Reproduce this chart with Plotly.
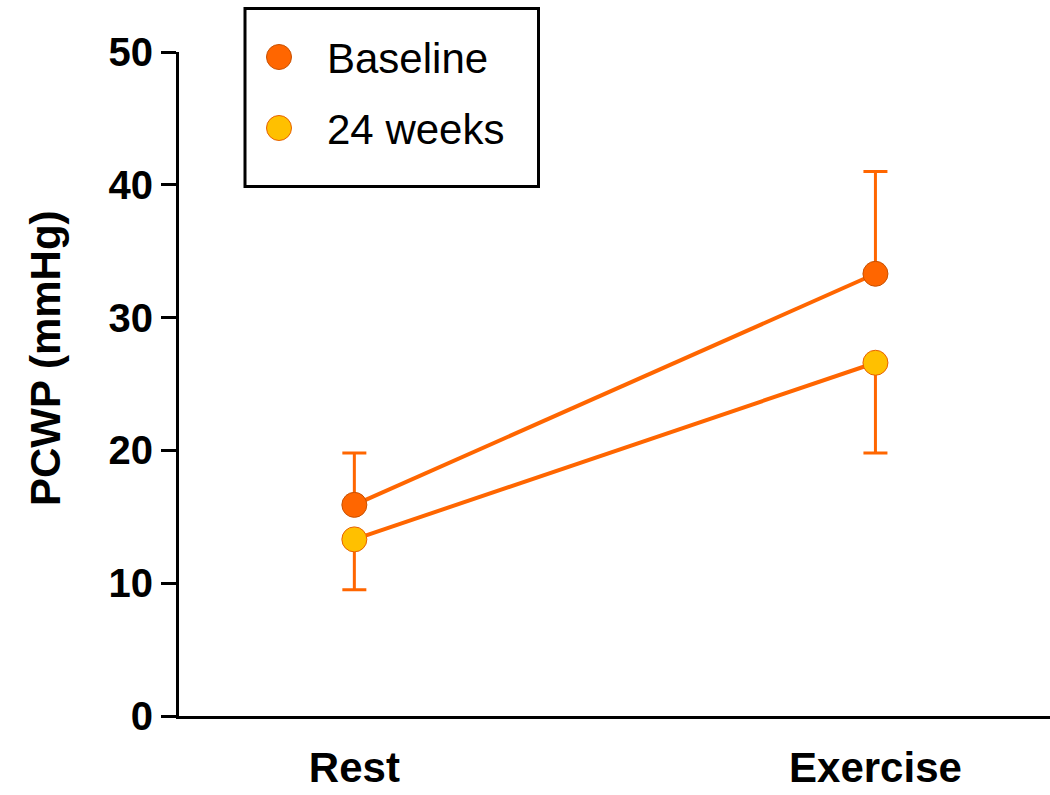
import plotly.graph_objects as go

categories = ["Rest", "Exercise"]
x_pos = [0, 1]
series_names = ["Baseline", "24 weeks"]
baseline = [15.9, 33.3]
baseline_err_up = [3.9, 7.7]
weeks24 = [13.3, 26.6]
weeks24_err_down = [3.8, 6.8]
y_ticks = [0, 10, 20, 30, 40, 50]

LINE = "#FF6600"
FILLS = ["#FF6600", "#FFC000"]
EDGES = ["#C85000", "#E86000"]
FONT = "Liberation Sans, Arial, sans-serif"

W, H = 1050, 795
ML, MR, MT, MB = 179, 0, 52, 79
PW, PH = W - ML - MR, H - MT - MB


def px2x(px):
    return (px - ML) / PW


def px2y(py):
    return (H - MB - py) / PH


fig = go.Figure()
fig.add_trace(go.Scatter(
    x=x_pos, y=baseline, name=series_names[0], mode="lines+markers",
    line=dict(color=LINE, width=4),
    marker=dict(size=25, color=FILLS[0], line=dict(color=EDGES[0], width=1)),
    error_y=dict(type="data", array=baseline_err_up, arrayminus=[0, 0], symmetric=False,
                 color=LINE, thickness=3, width=12),
    showlegend=False,
))
fig.add_trace(go.Scatter(
    x=x_pos, y=weeks24, name=series_names[1], mode="lines+markers",
    line=dict(color=LINE, width=4),
    marker=dict(size=25, color=FILLS[1], line=dict(color=EDGES[1], width=1)),
    error_y=dict(type="data", array=[0, 0], arrayminus=weeks24_err_down, symmetric=False,
                 color=LINE, thickness=3, width=12),
    showlegend=False,
))

# Legend box drawn manually to match the reference styling
shapes = [dict(type="rect", xref="paper", yref="paper",
               x0=px2x(245), x1=px2x(538.5), y0=px2y(186.5), y1=px2y(8.5),
               line=dict(color="black", width=3), fillcolor="white", layer="above")]
annotations = []
legend_rows = [57, 128]
for name, fill, edge, row in zip(series_names, FILLS, EDGES, legend_rows):
    shapes.append(dict(type="circle", xref="paper", yref="paper",
                       xsizemode="pixel", ysizemode="pixel",
                       xanchor=px2x(279), yanchor=px2y(row),
                       x0=-12.5, x1=12.5, y0=-12.5, y1=12.5,
                       fillcolor=fill, line=dict(color=edge, width=1), layer="above"))
    annotations.append(dict(text=name, xref="paper", yref="paper",
                            x=px2x(325), y=px2y(row + 1), xanchor="left", yanchor="middle",
                            showarrow=False, font=dict(size=42, family=FONT, color="black")))

annotations.append(dict(text="<b>PCWP (mmHg)</b>", xref="paper", yref="paper",
                        x=px2x(45), y=px2y(358), xanchor="center", yanchor="middle",
                        textangle=-90, showarrow=False,
                        font=dict(size=42, family=FONT, color="black")))

fig.update_layout(
    width=W, height=H,
    margin=dict(l=ML, r=MR, t=MT, b=MB),
    plot_bgcolor="white", paper_bgcolor="white",
    font=dict(family=FONT, color="black"),
    showlegend=False,
    shapes=shapes,
    annotations=annotations,
    xaxis=dict(
        range=[-0.3365, 1.335], tickmode="array", tickvals=x_pos, ticktext=categories,
        showline=True, linecolor="black", linewidth=3, ticks="", showgrid=False,
        zeroline=False, tickfont=dict(size=42, family=FONT, color="black", weight="bold"),
        ticklabelstandoff=13, automargin=False,
    ),
    yaxis=dict(
        range=[0, 50], tickmode="array", tickvals=y_ticks,
        showline=True, linecolor="black", linewidth=3, ticks="outside", ticklen=15,
        tickwidth=3, tickcolor="black", showgrid=False, zeroline=False,
        tickfont=dict(size=40, family=FONT, color="black", weight="bold"),
        automargin=False,
    ),
)

fig.write_html("out.html")
